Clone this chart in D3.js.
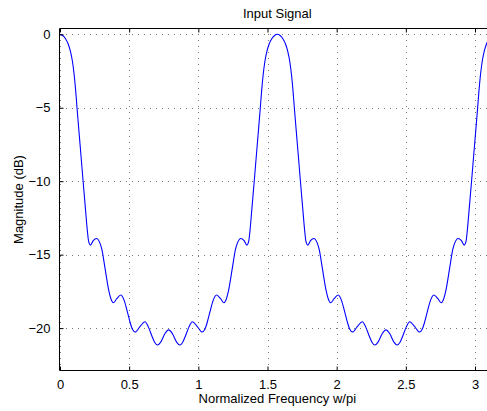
<!DOCTYPE html>
<html>
<head>
<meta charset="utf-8">
<script src="https://cdn.jsdelivr.net/npm/d3@7"></script>
<style>
  body { margin: 0; background: #fff; }
  svg { display: block; }
  text { font-family: "Liberation Sans", Arial, sans-serif; fill: #000; }
</style>
</head>
<body>
<div id="chart"></div>
<script>
// Frequency (rad, shown as w/pi axis) and magnitude in dB
var freq = [
  0.000, 0.020, 0.040, 0.060, 0.075, 0.090, 0.103, 0.113, 0.123, 0.145,
  0.167, 0.185, 0.197, 0.207, 0.220, 0.240, 0.265, 0.288, 0.303, 0.325,
  0.354, 0.372, 0.387, 0.410, 0.440, 0.465, 0.487, 0.508, 0.525, 0.543,
  0.578, 0.614, 0.640, 0.665, 0.685, 0.705, 0.728, 0.757, 0.785,
  0.814, 0.843, 0.866, 0.886, 0.906, 0.931, 0.957, 0.993, 1.028, 1.046,
  1.063, 1.084, 1.106, 1.131, 1.161, 1.184, 1.199, 1.217, 1.246, 1.268,
  1.283, 1.306, 1.331, 1.351, 1.364, 1.374, 1.386, 1.404, 1.426, 1.448,
  1.458, 1.468, 1.481, 1.496, 1.511, 1.531, 1.551, 1.571,
  1.591, 1.611, 1.631, 1.646, 1.661, 1.674, 1.684, 1.694, 1.716, 1.738,
  1.756, 1.768, 1.778, 1.791, 1.811, 1.836, 1.859, 1.874, 1.896, 1.925,
  1.943, 1.958, 1.981, 2.011, 2.036, 2.058, 2.079, 2.096, 2.114, 2.149,
  2.185, 2.211, 2.236, 2.256, 2.276, 2.299, 2.328, 2.356,
  2.385, 2.414, 2.437, 2.457, 2.477, 2.502, 2.528, 2.564, 2.599, 2.617,
  2.634, 2.655, 2.677, 2.702, 2.732, 2.755, 2.770, 2.788, 2.817, 2.839,
  2.854, 2.877, 2.902, 2.922, 2.935, 2.945, 2.957, 2.975, 2.997, 3.019,
  3.029, 3.039, 3.052, 3.067, 3.082, 3.102, 3.122, 3.142
];
var magdB = [
  0.00, -0.08, -0.30, -0.68, -1.15, -1.85, -2.80, -3.80, -5.00, -7.50,
  -10.00, -12.00, -13.30, -14.10, -14.35, -14.05, -13.90, -14.20, -14.65, -15.90,
  -17.50, -18.10, -18.27, -18.00, -17.75, -18.15, -18.90, -19.65, -20.10, -20.27,
  -19.90, -19.57, -19.95, -20.55, -20.98, -21.15, -20.95, -20.40, -20.12,
  -20.40, -20.95, -21.15, -20.98, -20.55, -19.95, -19.57, -19.90, -20.27, -20.10,
  -19.65, -18.90, -18.15, -17.75, -18.00, -18.27, -18.10, -17.50, -15.90, -14.65,
  -14.20, -13.90, -14.05, -14.35, -14.10, -13.30, -12.00, -10.00, -7.50, -5.00,
  -3.80, -2.80, -1.85, -1.15, -0.68, -0.30, -0.08, 0.00,
  -0.08, -0.30, -0.68, -1.15, -1.85, -2.80, -3.80, -5.00, -7.50, -10.00,
  -12.00, -13.30, -14.10, -14.35, -14.05, -13.90, -14.20, -14.65, -15.90, -17.50,
  -18.10, -18.27, -18.00, -17.75, -18.15, -18.90, -19.65, -20.10, -20.27, -19.90,
  -19.57, -19.95, -20.55, -20.98, -21.15, -20.95, -20.40, -20.12,
  -20.40, -20.95, -21.15, -20.98, -20.55, -19.95, -19.57, -19.90, -20.27, -20.10,
  -19.65, -18.90, -18.15, -17.75, -18.00, -18.27, -18.10, -17.50, -15.90, -14.65,
  -14.20, -13.90, -14.05, -14.35, -14.10, -13.30, -12.00, -10.00, -7.50, -5.00,
  -3.80, -2.80, -1.85, -1.15, -0.68, -0.30, -0.08, 0.00
];
var xTicks = [0, 0.5, 1, 1.5, 2, 2.5, 3];
var yTicks = [0, -5, -10, -15, -20];

var width = 487, height = 411;
// plot box (right edge lies past the window, like the reference)
var pLeft = 60, pRight = 494.6, pTop = 28, pBottom = 371;

var svg = d3.select("#chart").append("svg")
    .attr("width", width)
    .attr("height", height);

var x = d3.scaleLinear()
    .domain([0, Math.PI])
    .range([pLeft, pRight]);

var y = d3.scaleLinear()
    .domain([-22.92, 0.43])
    .range([pBottom, pTop]);

// dotted grid
var grid = svg.append("g")
    .attr("stroke", "#7a7a7a")
    .attr("stroke-width", 1)
    .attr("stroke-dasharray", "1,5");

grid.selectAll("line.v")
    .data(xTicks)
    .enter()
    .append("line")
    .attr("class", "v")
    .attr("x1", function (d) { return Math.round(x(d)) + 0.5; })
    .attr("x2", function (d) { return Math.round(x(d)) + 0.5; })
    .attr("y1", pBottom)
    .attr("y2", pTop);

grid.selectAll("line.h")
    .data(yTicks)
    .enter()
    .append("line")
    .attr("class", "h")
    .attr("x1", pLeft)
    .attr("x2", pRight)
    .attr("y1", function (d) { return Math.round(y(d)) + 0.5; })
    .attr("y2", function (d) { return Math.round(y(d)) + 0.5; });

// the curve
svg.append("clipPath")
    .attr("id", "clip")
    .append("rect")
    .attr("x", pLeft)
    .attr("y", pTop)
    .attr("width", pRight - pLeft)
    .attr("height", pBottom - pTop);

var line = d3.line()
    .x(function (d) { return x(d[0]); })
    .y(function (d) { return y(d[1]); })
    .curve(d3.curveMonotoneX);

svg.append("path")
    .datum(d3.zip(freq, magdB))
    .attr("clip-path", "url(#clip)")
    .attr("fill", "none")
    .attr("stroke", "#0000ff")
    .attr("stroke-width", 1.1)
    .attr("d", line);

// axes (ticks inside, like matlab)
var xAxisB = d3.axisBottom(x).tickValues(xTicks).tickSizeInner(-4).tickSizeOuter(0)
    .tickPadding(9).tickFormat(d3.format("~g"));
var xAxisT = d3.axisTop(x).tickValues(xTicks).tickSizeInner(-4).tickSizeOuter(0)
    .tickFormat("");
var yAxisL = d3.axisLeft(y).tickValues(yTicks).tickSizeInner(-4).tickSizeOuter(0)
    .tickPadding(9).tickFormat(function (d) { return d < 0 ? "\u2212" + (-d) : d; });

var gb = svg.append("g")
    .attr("transform", "translate(0," + (pBottom - 0.5) + ")")
    .call(xAxisB);
var gt = svg.append("g")
    .attr("transform", "translate(0," + (pTop + 0.5) + ")")
    .call(xAxisT);
var gl = svg.append("g")
    .attr("transform", "translate(" + (pLeft - 0.5) + ",0)")
    .call(yAxisL);

[gb, gt, gl].forEach(function (g) {
    g.select(".domain").remove();
    g.selectAll("line").attr("stroke", "#000");
    g.selectAll("text")
        .style("font-size", "13px")
        .style("font-family", "Liberation Sans, Arial, sans-serif")
        .attr("fill", "#000");
});

// frame lines (right side falls outside the window)
svg.append("path")
    .attr("fill", "none")
    .attr("stroke", "#000")
    .attr("stroke-width", 1)
    .attr("d", "M" + (pRight - 0.5) + "," + (pTop + 0.5) + "H" + (pLeft - 0.5) +
        "V" + (pBottom - 0.5) + "H" + (pRight - 0.5));

// labels
svg.append("text")
    .attr("x", (pLeft + pRight) / 2)
    .attr("y", 18.3)
    .attr("text-anchor", "middle")
    .style("font-size", "13px")
    .text("Input Signal");

svg.append("text")
    .attr("x", (pLeft + pRight) / 2)
    .attr("y", 403.3)
    .attr("text-anchor", "middle")
    .style("font-size", "13px")
    .text("Normalized Frequency w/pi");

svg.append("text")
    .attr("transform", "translate(22.7," + ((pTop + pBottom) / 2) + ") rotate(-90)")
    .attr("text-anchor", "middle")
    .style("font-size", "13px")
    .text("Magnitude (dB)");
</script>
</body>
</html>
